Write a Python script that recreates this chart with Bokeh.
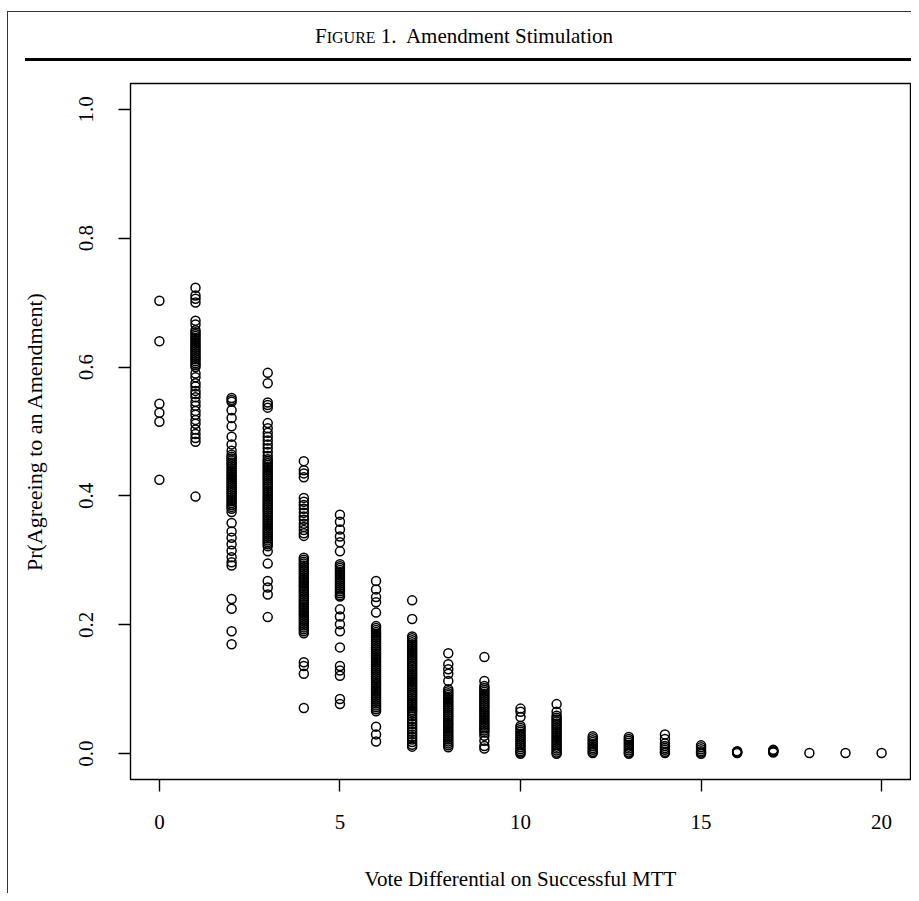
from bokeh.plotting import figure
from bokeh.models import Range1d, FixedTicker, PrintfTickFormatter, ColumnDataSource, Div
from bokeh.layouts import row, column
from bokeh.embed import file_html
from bokeh.resources import INLINE

# ---- data: predicted Pr(agreeing to an amendment) by vote differential ----
vd0 = [0.703, 0.640, 0.543, 0.529, 0.515, 0.425]
vd1 = [0.723, 0.711, 0.706, 0.700, 0.672, 0.666, 0.657, 0.654, 0.651, 0.648, 0.645, 0.642,
       0.639, 0.636, 0.633, 0.630, 0.627, 0.624, 0.621, 0.618, 0.615, 0.612, 0.609, 0.606,
       0.603, 0.600, 0.590, 0.584, 0.575, 0.570, 0.563, 0.558, 0.553, 0.546, 0.540, 0.532,
       0.526, 0.518, 0.512, 0.503, 0.496, 0.490, 0.484, 0.399]
vd2 = [0.552, 0.549, 0.546, 0.533, 0.521, 0.508, 0.492, 0.480, 0.470, 0.464, 0.461, 0.458,
       0.455, 0.452, 0.449, 0.446, 0.443, 0.440, 0.437, 0.434, 0.431, 0.428, 0.425, 0.422,
       0.419, 0.416, 0.413, 0.410, 0.407, 0.404, 0.401, 0.398, 0.395, 0.392, 0.389, 0.386,
       0.383, 0.380, 0.375, 0.358, 0.345, 0.335, 0.325, 0.315, 0.305, 0.297, 0.292, 0.240,
       0.225, 0.190, 0.170]
vd3 = [0.591, 0.575, 0.545, 0.541, 0.537, 0.513, 0.505, 0.498, 0.492, 0.486, 0.480, 0.474,
       0.468, 0.462, 0.457, 0.454, 0.451, 0.448, 0.445, 0.442, 0.439, 0.436, 0.433, 0.430,
       0.427, 0.424, 0.421, 0.418, 0.415, 0.412, 0.409, 0.406, 0.403, 0.400, 0.397, 0.394,
       0.391, 0.388, 0.385, 0.382, 0.379, 0.376, 0.373, 0.370, 0.367, 0.364, 0.361, 0.358,
       0.355, 0.352, 0.349, 0.346, 0.343, 0.340, 0.337, 0.334, 0.331, 0.328, 0.325, 0.322,
       0.314, 0.295, 0.268, 0.258, 0.247, 0.212]
vd4 = [0.454, 0.440, 0.435, 0.429, 0.397, 0.391, 0.386, 0.380, 0.374, 0.368, 0.363, 0.357,
       0.352, 0.347, 0.342, 0.338, 0.304, 0.301, 0.298, 0.295, 0.292, 0.289, 0.286, 0.283,
       0.280, 0.277, 0.274, 0.271, 0.268, 0.265, 0.262, 0.259, 0.256, 0.253, 0.250, 0.247,
       0.244, 0.241, 0.238, 0.235, 0.232, 0.229, 0.226, 0.223, 0.220, 0.217, 0.214, 0.211,
       0.208, 0.205, 0.202, 0.199, 0.196, 0.193, 0.190, 0.187, 0.142, 0.136, 0.124, 0.071]
vd5 = [0.371, 0.360, 0.348, 0.337, 0.328, 0.314, 0.294, 0.291, 0.288, 0.285, 0.282, 0.279,
       0.276, 0.273, 0.270, 0.267, 0.264, 0.261, 0.258, 0.255, 0.252, 0.249, 0.246, 0.244,
       0.224, 0.213, 0.201, 0.190, 0.165, 0.136, 0.129, 0.121, 0.085, 0.077]
vd6 = [0.268, 0.255, 0.243, 0.235, 0.219, 0.198, 0.195, 0.192, 0.189, 0.186, 0.183, 0.180,
       0.177, 0.174, 0.171, 0.168, 0.165, 0.162, 0.159, 0.156, 0.153, 0.150, 0.147, 0.144,
       0.141, 0.138, 0.135, 0.132, 0.129, 0.126, 0.123, 0.120, 0.117, 0.114, 0.111, 0.108,
       0.105, 0.102, 0.099, 0.096, 0.093, 0.090, 0.087, 0.084, 0.081, 0.078, 0.075, 0.072,
       0.069, 0.066, 0.042, 0.030, 0.019]
vd7 = [0.238, 0.209, 0.182, 0.179, 0.176, 0.173, 0.170, 0.167, 0.164, 0.161, 0.158, 0.155,
       0.152, 0.149, 0.146, 0.143, 0.140, 0.137, 0.134, 0.131, 0.128, 0.125, 0.122, 0.119,
       0.116, 0.113, 0.110, 0.107, 0.104, 0.101, 0.098, 0.095, 0.092, 0.089, 0.086, 0.083,
       0.080, 0.077, 0.074, 0.071, 0.068, 0.065, 0.062, 0.058, 0.054, 0.050, 0.046, 0.042,
       0.038, 0.034, 0.030, 0.026, 0.022, 0.018, 0.014, 0.011]
vd8 = [0.156, 0.139, 0.131, 0.124, 0.113, 0.100, 0.097, 0.094, 0.091, 0.088, 0.085, 0.082,
       0.079, 0.076, 0.073, 0.070, 0.067, 0.064, 0.061, 0.058, 0.055, 0.052, 0.049, 0.046,
       0.043, 0.040, 0.037, 0.034, 0.031, 0.028, 0.025, 0.022, 0.019, 0.016, 0.013, 0.010]
vd9 = [0.150, 0.113, 0.105, 0.102, 0.099, 0.096, 0.093, 0.090, 0.087, 0.084, 0.081, 0.078,
       0.075, 0.072, 0.069, 0.066, 0.063, 0.060, 0.057, 0.054, 0.051, 0.048, 0.045, 0.042,
       0.039, 0.036, 0.033, 0.028, 0.020, 0.012, 0.008]
vd10 = [0.070, 0.065, 0.057, 0.043, 0.040, 0.037, 0.034, 0.031, 0.028, 0.025, 0.022, 0.019,
        0.016, 0.013, 0.010, 0.007, 0.004, 0.002, 0.000]
vd11 = [0.077, 0.065, 0.059, 0.056, 0.053, 0.050, 0.047, 0.044, 0.041, 0.038, 0.035, 0.032,
        0.029, 0.026, 0.023, 0.020, 0.017, 0.014, 0.011, 0.008, 0.005, 0.002, 0.000]
vd12 = [0.027, 0.024, 0.021, 0.018, 0.015, 0.012, 0.009, 0.006, 0.003, 0.001]
vd13 = [0.026, 0.023, 0.020, 0.017, 0.014, 0.011, 0.008, 0.005, 0.002, 0.000]
vd14 = [0.030, 0.023, 0.016, 0.012, 0.009, 0.006, 0.003, 0.001]
vd15 = [0.013, 0.010, 0.007, 0.004, 0.002, 0.000]
vd16 = [0.004, 0.003, 0.002, 0.001]
vd17 = [0.006, 0.005, 0.004, 0.003, 0.002]
vd18 = [0.001]
vd19 = [0.001]
vd20 = [0.001]

groups = [vd0, vd1, vd2, vd3, vd4, vd5, vd6, vd7, vd8, vd9, vd10, vd11, vd12, vd13,
          vd14, vd15, vd16, vd17, vd18, vd19, vd20]

x_ticks = [0, 5, 10, 15, 20]
y_ticks = [0.0, 0.2, 0.4, 0.6, 0.8, 1.0]

caption_big = "F"
caption_small = "IGURE"
caption_rest = "1.&nbsp; Amendment Stimulation"

xs, ys = [], []
for diff, vals in enumerate(groups):
    xs.extend([diff] * len(vals))
    ys.extend(vals)
src = ColumnDataSource(data=dict(x=xs, y=ys))

FONT = "Liberation Serif"

fig = figure(width=903, height=811, x_range=Range1d(-0.8, 20.8), y_range=Range1d(-0.04, 1.04),
             output_backend="svg", toolbar_location=None,
             min_border_left=122, min_border_right=1, min_border_top=1, min_border_bottom=112)
fig.background_fill_color = "white"
fig.border_fill_color = "white"
fig.outline_line_color = "black"
fig.outline_line_width = 1.4
fig.grid.visible = False

fig.scatter("x", "y", source=src, marker="circle", size=9, fill_color=None,
            line_color="black", line_width=1.5)

for ax in (fig.xaxis[0], fig.yaxis[0]):
    ax.axis_line_color = None
    ax.major_tick_in = 0
    ax.major_tick_out = 12
    ax.major_tick_line_color = "black"
    ax.major_tick_line_width = 1.4
    ax.minor_tick_line_color = None
    ax.major_label_text_font = FONT
    ax.major_label_text_font_size = "21px"
    ax.major_label_text_color = "black"
    ax.axis_label_text_font = FONT
    ax.axis_label_text_font_style = "normal"
    ax.axis_label_text_font_size = "21px"
    ax.axis_label_text_color = "black"

fig.xaxis.ticker = FixedTicker(ticks=x_ticks)
fig.xaxis.major_label_standoff = 23
fig.xaxis.axis_label = "Vote Differential on Successful MTT"
fig.xaxis.axis_label_standoff = 35

fig.yaxis.ticker = FixedTicker(ticks=y_ticks)
fig.yaxis.formatter = PrintfTickFormatter(format="%.1f")
fig.yaxis.major_label_orientation = "vertical"
fig.yaxis.major_label_standoff = 25
fig.yaxis.axis_label = "Pr(Agreeing to an Amendment)"
fig.yaxis.axis_label_text_font_size = "22px"
fig.yaxis.axis_label_standoff = 30

# caption strip: top border of the outer box, small-caps caption, heavy rule
caption_html = (
    '<div style="position:relative;width:903px;height:82px;'
    'font-family:\'Liberation Serif\',serif;color:#000;">'
    '<div style="position:absolute;left:0px;top:11px;width:903px;height:1px;background:#333333;"></div>'
    '<div style="position:absolute;left:17px;top:58px;width:886px;height:3px;background:#000000;"></div>'
    '<div style="position:absolute;left:156px;top:26px;width:600px;text-align:center;'
    'font-size:21px;line-height:20px;white-space:nowrap;">'
    + caption_big + '<span style="font-size:16px;">' + caption_small + '</span> '
    + caption_rest + '</div></div>'
)
caption = Div(text=caption_html, width=903, height=82, margin=0)

# left edge of the outer box
edge_html = ('<div style="position:relative;width:8px;height:893px;">'
             '<div style="position:absolute;left:7px;top:11px;width:1px;height:882px;'
             'background:#333333;"></div></div>')
edge = Div(text=edge_html, width=8, height=893, margin=0)

p = row(edge, column(caption, fig, spacing=0), spacing=0)

open("out.html", "w").write(file_html(p, INLINE))
